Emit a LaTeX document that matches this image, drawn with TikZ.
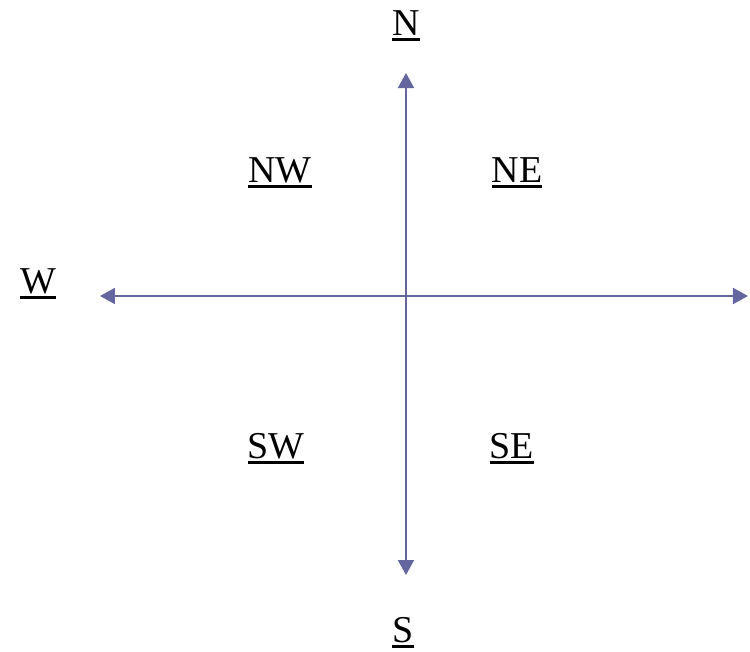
\documentclass[tikz,border=0pt]{standalone}
\usepackage{fontspec}
\setmainfont{Liberation Serif}
\usetikzlibrary{arrows.meta}
\definecolor{axisblue}{RGB}{100,102,160}
\newcommand{\ulabel}[1]{\setbox0\hbox{#1}\rlap{\rule[-0.12cm]{\wd0}{0.06cm}}\box0}
\tikzset{
  dirlabel/.style={anchor=base, inner sep=0pt, font=\fontsize{21.6}{26}\selectfont},
  axis/.style={axisblue, line width=0.04cm, {Triangle[length=0.3cm, width=0.32cm]}-{Triangle[length=0.3cm, width=0.32cm]}}
}
\begin{document}
\begin{tikzpicture}
 \useasboundingbox (-8.12,-7.12) rectangle (6.88,5.92);
 \coordinate (west) at (-6.12,0);
 \coordinate (east) at (6.84,0);
 \coordinate (north) at (0,4.46);
 \coordinate (south) at (0,-5.58);
 \draw[axis] (west) -- (east);
 \draw[axis] (north) -- (south);
 \node[dirlabel] (n) at (0,5.22) {\ulabel{N}};
 \node[dirlabel] (s) at (-0.06,-6.92) {\ulabel{S}};
 \node[dirlabel] (w) at (-7.36,0.06) {\ulabel{W}};
 \node[dirlabel] (nw) at (-2.52,2.28) {\ulabel{NW}};
 \node[dirlabel] (ne) at (2.22,2.28) {\ulabel{NE}};
 \node[dirlabel] (sw) at (-2.6,-3.24) {\ulabel{SW}};
 \node[dirlabel] (se) at (2.12,-3.24) {\ulabel{SE}};
\end{tikzpicture}
\end{document}
